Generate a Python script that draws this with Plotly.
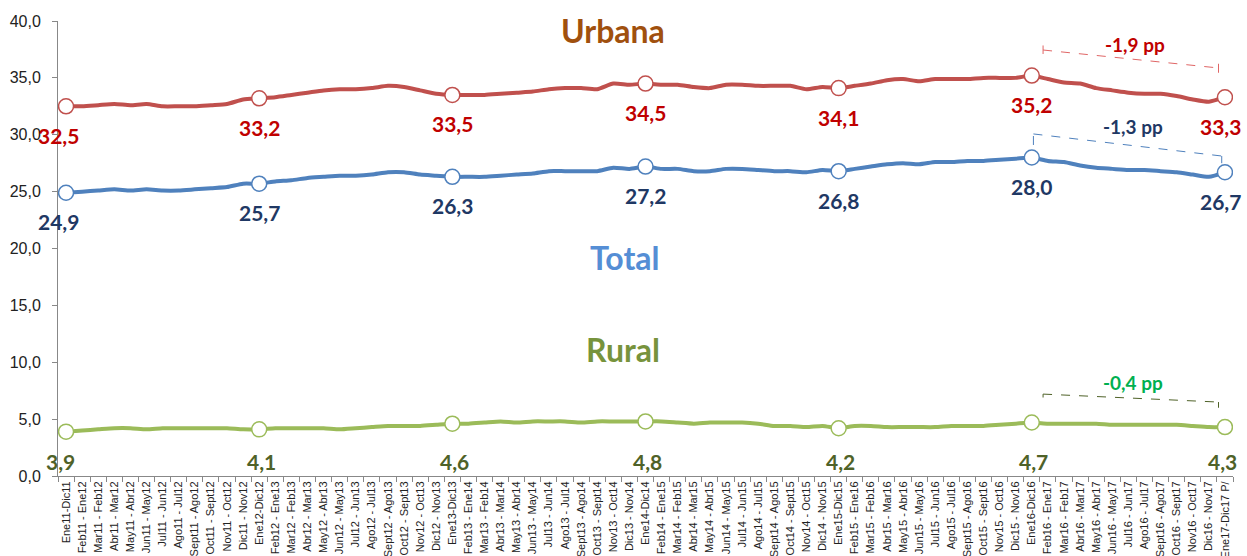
import plotly.graph_objects as go

periods = [
    "Ene11-Dic11", "Feb11 - Ene12", "Mar11 - Feb12", "Abr11 - Mar12", "May11 - Abr12", "Jun11 - May12",
    "Jul11 - Jun12", "Ago11 - Jul12", "Sept11 - Ago12", "Oct11 - Sept12", "Nov11 - Oct12", "Dic11 - Nov12",
    "Ene12-Dic12", "Feb12 - Ene13", "Mar12 - Feb13", "Abr12 - Mar13", "May12 - Abr13", "Jun12 - May13",
    "Jul12 - Jun13", "Ago12 - Jul13", "Sept12 - Ago13", "Oct12 - Sept13", "Nov12 - Oct13", "Dic12 - Nov13",
    "Ene13-Dic13", "Feb13 - Ene14", "Mar13 - Feb14", "Abr13 - Mar14", "May13 - Abr14", "Jun13 - May14",
    "Jul13 - Jun14", "Ago13 - Jul14", "Sept13 - Ago14", "Oct13 - Sept14", "Nov13 - Oct14", "Dic13 - Nov14",
    "Ene14-Dic14", "Feb14 - Ene15", "Mar14 - Feb15", "Abr14 - Mar15", "May14 - Abr15", "Jun14 - May15",
    "Jul14 - Jun15", "Ago14 - Jul15", "Sept14 - Ago15", "Oct14 - Sept15", "Nov14 - Oct15", "Dic14 - Nov15",
    "Ene15-Dic15", "Feb15 - Ene16", "Mar15 - Feb16", "Abr15 - Mar16", "May15 - Abr16", "Jun15 - May16",
    "Jul15 - Jun16", "Ago15 - Jul16", "Sept15 - Ago16", "Oct15 - Sept16", "Nov15 - Oct16", "Dic15 - Nov16",
    "Ene16-Dic16", "Feb16 - Ene17", "Mar16 - Feb17", "Abr16 - Mar17", "May16 - Abr17", "Jun16 - May17",
    "Jul16 - Jun17", "Ago16 - Jul17", "Sept16 - Ago17", "Oct16 - Sept17", "Nov16 - Oct17", "Dic16 - Nov17",
    "Ene17-Dic17 P/",
]

urbana = [
    32.5, 32.5, 32.6, 32.7, 32.6, 32.7, 32.5, 32.5, 32.5, 32.6, 32.7, 33.1,
    33.2, 33.3, 33.5, 33.7, 33.9, 34.0, 34.0, 34.1, 34.3, 34.2, 33.9, 33.6,
    33.5, 33.5, 33.5, 33.6, 33.7, 33.8, 34.0, 34.1, 34.1, 34.0, 34.5, 34.4,
    34.5, 34.4, 34.4, 34.2, 34.1, 34.4, 34.4, 34.3, 34.3, 34.3, 34.0, 34.2,
    34.1, 34.3, 34.5, 34.8, 34.9, 34.7, 34.9, 34.9, 34.9, 35.0, 35.0, 35.0,
    35.2, 34.9, 34.6, 34.5, 34.1, 33.9, 33.7, 33.6, 33.6, 33.4, 33.1, 32.9,
    33.3,
]

total = [
    24.9, 25.0, 25.1, 25.2, 25.1, 25.2, 25.1, 25.1, 25.2, 25.3, 25.4, 25.7,
    25.7, 25.9, 26.0, 26.2, 26.3, 26.4, 26.4, 26.5, 26.7, 26.7, 26.5, 26.4,
    26.3, 26.3, 26.3, 26.4, 26.5, 26.6, 26.8, 26.8, 26.8, 26.8, 27.1, 27.0,
    27.2, 27.0, 27.0, 26.8, 26.8, 27.0, 27.0, 26.9, 26.8, 26.8, 26.7, 26.9,
    26.8, 27.0, 27.2, 27.4, 27.5, 27.4, 27.6, 27.6, 27.7, 27.7, 27.8, 27.9,
    28.0, 27.7, 27.6, 27.3, 27.1, 27.0, 26.9, 26.9, 26.8, 26.7, 26.5, 26.3,
    26.7,
]

rural = [
    3.9, 4.0, 4.1, 4.2, 4.2, 4.1, 4.2, 4.2, 4.2, 4.2, 4.2, 4.1,
    4.1, 4.2, 4.2, 4.2, 4.2, 4.1, 4.2, 4.3, 4.4, 4.4, 4.4, 4.5,
    4.6, 4.6, 4.7, 4.8, 4.7, 4.8, 4.8, 4.8, 4.7, 4.8, 4.8, 4.8,
    4.8, 4.8, 4.7, 4.6, 4.7, 4.7, 4.7, 4.6, 4.4, 4.4, 4.3, 4.4,
    4.2, 4.4, 4.4, 4.3, 4.3, 4.3, 4.3, 4.4, 4.4, 4.4, 4.5, 4.6,
    4.7, 4.6, 4.6, 4.6, 4.6, 4.5, 4.5, 4.5, 4.5, 4.5, 4.4, 4.3,
    4.3,
]

marked_idx = [0, 12, 24, 36, 48, 60, 72]

series = [
    ("Urbana", urbana, "#C0504D", "#C00000"),
    ("Total", total, "#4F81BD", "#1F3864"),
    ("Rural", rural, "#9BBB59", "#4F6228"),
]

LABEL_FONT = "Lato, Carlito, Calibri, 'Open Sans', sans-serif"

fig = go.Figure()
annotations = []

for name, vals, lc, tc in series:
    fig.add_trace(go.Scatter(
        x=periods, y=vals, mode="lines", name=name,
        line=dict(color=lc, width=4, shape="spline", smoothing=0.6),
        hoverinfo="skip", showlegend=False,
    ))
    fig.add_trace(go.Scatter(
        x=[periods[i] for i in marked_idx], y=[vals[i] for i in marked_idx],
        mode="markers", name=name,
        marker=dict(symbol="circle", size=15, color="white", line=dict(color=lc, width=1.5)),
        showlegend=False,
    ))
    for k, i in enumerate(marked_idx):
        txt = f"{vals[i]:.1f}".replace(".", ",")
        xs = -8 if k == 0 else (-4 if k == len(marked_idx) - 1 else 0)
        if name == "Rural":
            annotations.append(dict(x=periods[i], y=1.25, text=f"<b>{txt}</b>", showarrow=False,
                                    xshift=xs + 2, font=dict(family=LABEL_FONT, size=21, color=tc)))
        else:
            annotations.append(dict(x=periods[i], y=vals[i], text=f"<b>{txt}</b>", showarrow=False,
                                    xshift=xs, yshift=-29, font=dict(family=LABEL_FONT, size=21, color=tc)))

# Series titles and change annotations
annotations += [
    dict(x=34.0, y=39.2, text="<b>Urbana</b>", showarrow=False, font=dict(family=LABEL_FONT, size=32, color="#A0500E")),
    dict(x=34.7, y=19.2, text="<b>Total</b>", showarrow=False, font=dict(family=LABEL_FONT, size=32, color="#558ED5")),
    dict(x=34.6, y=11.1, text="<b>Rural</b>", showarrow=False, font=dict(family=LABEL_FONT, size=32, color="#77933C")),
    dict(x=66.4, y=37.9, text="<b>-1,9 pp</b>", showarrow=False, font=dict(family=LABEL_FONT, size=19, color="#C00000")),
    dict(x=66.3, y=30.7, text="<b>-1,3 pp</b>", showarrow=False, font=dict(family=LABEL_FONT, size=19, color="#1F3864")),
    dict(x=66.3, y=8.2, text="<b>-0,4 pp</b>", showarrow=False, font=dict(family=LABEL_FONT, size=19, color="#00B050")),
]

shapes = []
def dline(x0, y0, x1, y1, color):
    shapes.append(dict(type="line", xref="x", yref="y", x0=x0, y0=y0, x1=x1, y1=y1,
                       line=dict(color=color, width=1, dash="dash")))

# Red bracket
dline(60.7, 37.45, 71.6, 35.87, "#E06666")
dline(60.7, 37.1, 60.7, 37.85, "#E06666")
dline(71.6, 35.45, 71.6, 36.25, "#E06666")
# Blue bracket
dline(60.1, 30.07, 71.8, 28.13, "#4F81BD")
dline(60.1, 29.1, 60.1, 30.07, "#4F81BD")
dline(71.8, 28.13, 71.8, 27.5, "#4F81BD")
# Green bracket
dline(60.7, 7.2, 71.6, 6.5, "#4F6228")
dline(60.7, 6.9, 60.7, 7.2, "#4F6228")
dline(71.6, 6.5, 71.6, 6.0, "#4F6228")

fig.update_layout(
    width=1247, height=556,
    margin=dict(l=58, r=14, t=21, b=80, autoexpand=False),
    paper_bgcolor="white", plot_bgcolor="white",
    separators=",.",
    annotations=annotations, shapes=shapes,
    xaxis=dict(
        type="category", range=[-0.5, 72.5], tickangle=-90, automargin=False,
        tickfont=dict(family="'Liberation Sans', Arial", size=11, color="#222"),
        showline=True, linecolor="#888", linewidth=1, ticks="outside", ticklen=5, tickcolor="#888",
        tickson="boundaries", showgrid=False, zeroline=False,
    ),
    yaxis=dict(
        range=[0, 40], dtick=5, tickformat=".1f", automargin=False,
        tickfont=dict(family="'Liberation Sans', Arial", size=16, color="#222"),
        showline=True, linecolor="#888", linewidth=1, ticks="outside", ticklen=5, tickcolor="#888",
        ticklabelstandoff=8, showgrid=False, zeroline=False,
    ),
)

fig.write_html(
    "out.html",
    config={"displayModeBar": False},
    post_script="document.body.style.margin='0';document.body.style.overflow='hidden';",
)
